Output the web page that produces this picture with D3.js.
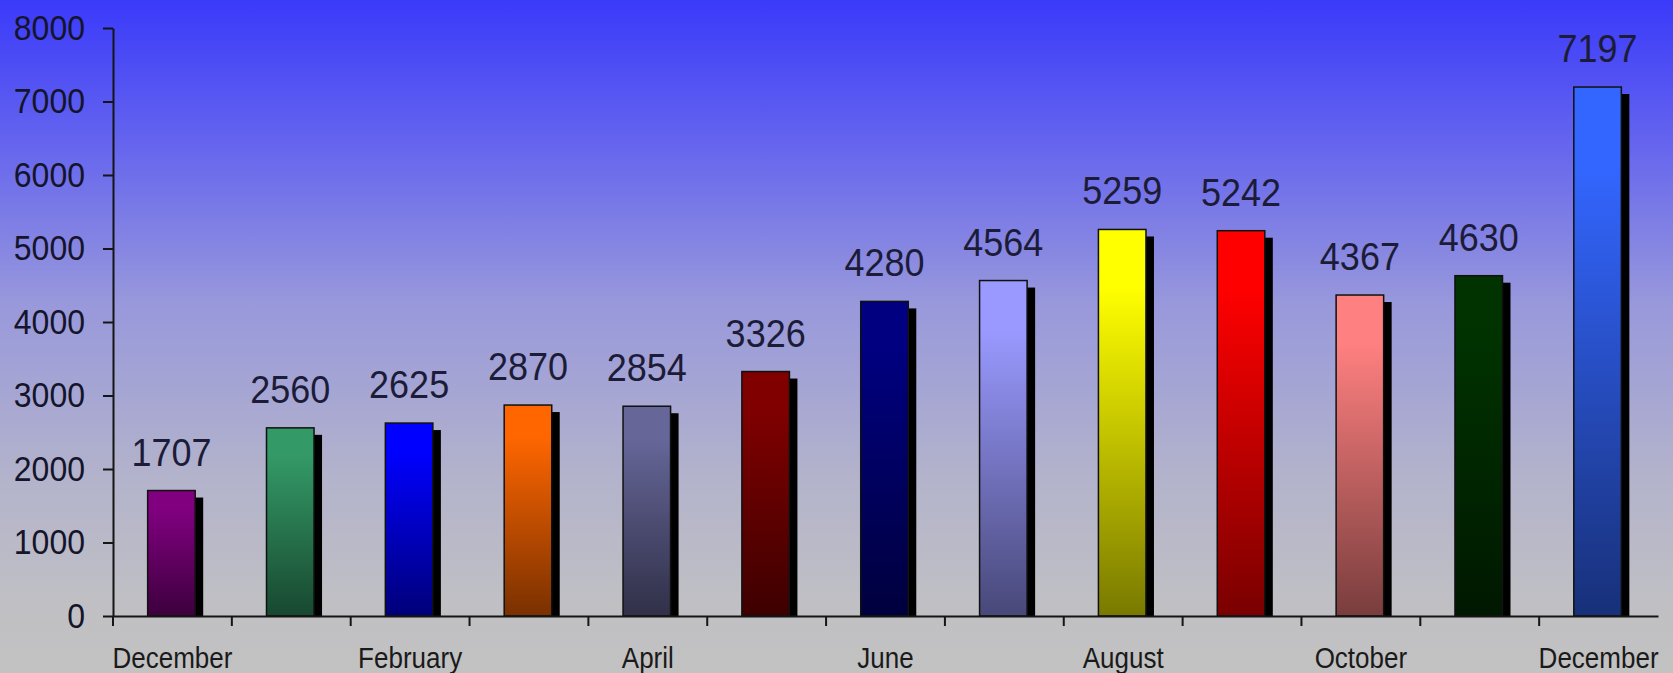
<!DOCTYPE html>
<html>
<head>
<meta charset="utf-8">
<script src="https://cdn.jsdelivr.net/npm/d3@7"></script>
<style>
  body { margin: 0; padding: 0; overflow: hidden; }
  svg { display: block; }
</style>
</head>
<body>
<script>
'use strict';

//Data ========================================

var months = ['December', 'January', 'February', 'March', 'April', 'May', 'June',
  'July', 'August', 'September', 'October', 'November', 'December'];
var counts = [1707, 2560, 2625, 2870, 2854, 3326, 4280, 4564, 5259, 5242, 4367, 4630, 7197];
var barColors = ['#800080', '#339966', '#0000ff', '#ff6600', '#666699', '#800000', '#000080',
  '#9999ff', '#ffff00', '#ff0000', '#ff8080', '#003300', '#3366ff'];
var yTicks = [0, 1000, 2000, 3000, 4000, 5000, 6000, 7000, 8000];

//Sizing things.
var width = 1673;
var height = 673;
var plotLeft = 113, plotRight = 1658, plotTop = 28, plotBottom = 616;
var stretch = 1.1; // text in the picture is a bit taller than wide

var svg = d3.select('body').append('svg')
  .attr('width', width)
  .attr('height', height);

var defs = svg.append('defs');

// background: strong blue at top fading to grey
var bg = defs.append('linearGradient')
  .attr('id', 'bg')
  .attr('x1', 0).attr('y1', 0).attr('x2', 0).attr('y2', 1);
bg.append('stop').attr('offset', '0%').attr('stop-color', '#3a3afa');
bg.append('stop').attr('offset', '22%').attr('stop-color', '#6666ee');
bg.append('stop').attr('offset', '45%').attr('stop-color', '#9898dc');
bg.append('stop').attr('offset', '70%').attr('stop-color', '#b2b2cc');
bg.append('stop').attr('offset', '90%').attr('stop-color', '#c0c0c4');
bg.append('stop').attr('offset', '100%').attr('stop-color', '#c2c2c2');

svg.append('rect')
  .attr('width', width)
  .attr('height', height)
  .attr('fill', 'url(#bg)');

// one gradient per bar, colour at top going darker at the bottom
barColors.forEach(function (c, i) {
  var g = defs.append('linearGradient')
    .attr('id', 'bar' + i)
    .attr('x1', 0).attr('y1', 0).attr('x2', 0).attr('y2', 1);
  g.append('stop').attr('offset', '0%').attr('stop-color', c);
  g.append('stop').attr('offset', '15%').attr('stop-color', c);
  g.append('stop').attr('offset', '100%').attr('stop-color', d3.color(c).darker(2.1));
});

//Scales =======================================

var x = d3.scaleBand()
  .domain(d3.range(months.length))
  .range([plotLeft, plotRight])
  .padding(0);

var y = d3.scaleLinear()
  .domain([0, 8000])
  .range([plotBottom, plotTop]);

var bw = x.bandwidth();
var barW = bw * 0.4;

//Bars =========================================

var bars = svg.append('g').attr('class', 'bars');

// drop shadow first, then the bar on top
bars.selectAll('rect.shadow')
  .data(counts)
  .enter().append('rect')
  .attr('class', 'shadow')
  .attr('x', function (d, i) { return x(i) + (bw - barW) / 2 - 1 + 8; })
  .attr('y', function (d) { return y(d) + 7; })
  .attr('width', barW)
  .attr('height', function (d) { return plotBottom - y(d) - 7; })
  .attr('fill', '#000');

bars.selectAll('rect.bar')
  .data(counts)
  .enter().append('rect')
  .attr('class', 'bar')
  .attr('x', function (d, i) { return x(i) + (bw - barW) / 2 - 1; })
  .attr('y', function (d) { return y(d); })
  .attr('width', barW)
  .attr('height', function (d) { return plotBottom - y(d); })
  .attr('fill', function (d, i) { return 'url(#bar' + i + ')'; })
  .attr('stroke', '#111')
  .attr('stroke-width', 1.5);

// value labels
bars.selectAll('text.value')
  .data(counts)
  .enter().append('text')
  .attr('class', 'value')
  .attr('transform', function (d, i) {
    return 'translate(' + (x(i) + bw / 2 - 1) + ',' + (y(d) - 25) + ') scale(1,' + stretch + ')';
  })
  .attr('text-anchor', 'middle')
  .style('font-family', 'Liberation Sans, Arial, sans-serif')
  .style('font-size', '36px')
  .style('fill', '#1c1c38')
  .text(function (d) { return d; });

//Axes =========================================

var yAxis = svg.append('g')
  .attr('transform', 'translate(' + plotLeft + ',0)')
  .call(d3.axisLeft(y)
    .tickValues(yTicks)
    .tickFormat(d3.format('d'))
    .tickSize(10)
    .tickSizeOuter(0));

yAxis.selectAll('text')
  .attr('x', null).attr('dy', null)
  .attr('transform', 'translate(-28,11) scale(1,' + stretch + ')')
  .style('font-family', 'Liberation Sans, Arial, sans-serif')
  .style('font-size', '32px')
  .style('fill', '#14142a');

var xAxis = svg.append('g')
  .attr('transform', 'translate(0,' + plotBottom + ')')
  .call(d3.axisBottom(x)
    .tickSize(10)
    .tickSizeOuter(0)
    .tickFormat(function (i) { return i % 2 === 0 ? months[i] : ''; }));

// ticks sit on the band edges, labels stay centred
xAxis.selectAll('.tick line')
  .attr('x1', -bw / 2).attr('x2', -bw / 2);

xAxis.selectAll('text')
  .attr('y', null).attr('dy', null)
  .attr('transform', 'translate(0,52) scale(1,' + stretch + ')')
  .style('font-family', 'Liberation Sans, Arial, sans-serif')
  .style('font-size', '26px')
  .style('fill', '#1a1a1a');

svg.selectAll('.domain, .tick line')
  .attr('stroke', '#151515')
  .attr('stroke-width', 2);
</script>
</body>
</html>
